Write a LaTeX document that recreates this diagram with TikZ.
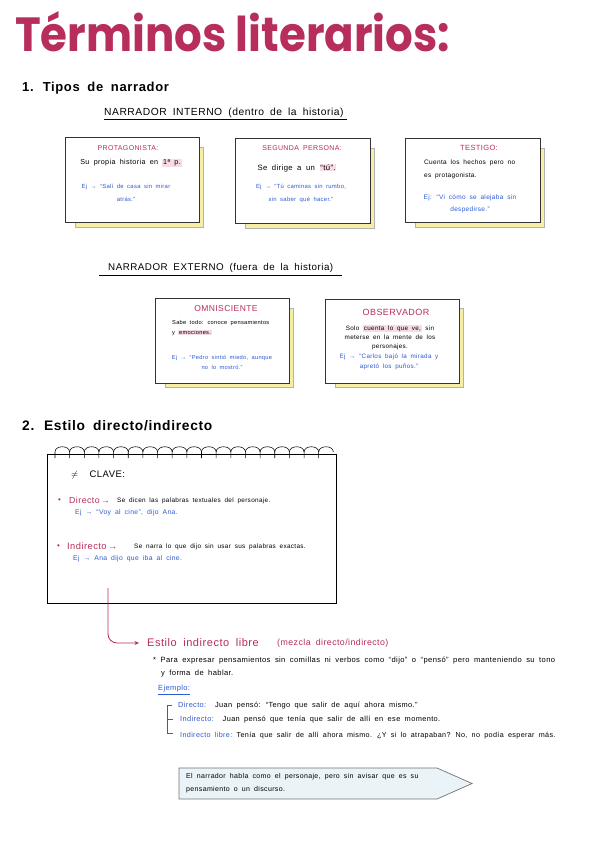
\documentclass[tikz,border=0pt]{standalone}
\usepackage{fontspec}
\setmainfont{Liberation Sans}[LetterSpace=5, WordSpace=1.8]
\newfontfamily\titlefont{Poppins}
\usetikzlibrary{arrows.meta}
\definecolor{crim}{HTML}{B72D5B}
\definecolor{inkblue}{HTML}{2F5BD3}
\definecolor{padyellow}{HTML}{F6EEA4}
\definecolor{hlpink}{HTML}{F8DCE3}
\definecolor{bannerfill}{HTML}{EAF3F8}
\newcommand\hlp[1]{{\setlength{\fboxsep}{0.8pt}\colorbox{hlpink}{#1}}}
\begin{document}
\begin{tikzpicture}[x=1pt,y=-1pt,
  every node/.style={inner sep=0pt},
  cardbox/.style={draw=black!80, line width=0.7pt, fill=white},
  padbox/.style={draw=black!30, line width=0.5pt, fill=padyellow},
  ctitle/.style={text=crim, font=\fontsize{7}{8}\selectfont},
  body/.style={font=\fontsize{6.5}{12}\selectfont},
  ex/.style={text=inkblue, font=\fontsize{6.5}{13}\selectfont},
  heading/.style={anchor=west, font=\bfseries\fontsize{13}{14}\selectfont},
  subhead/.style={anchor=west, font=\fontsize{10.3}{11}\selectfont},
  txt/.style={anchor=west, font=\fontsize{7.8}{9}\selectfont}
]
\useasboundingbox (0,0) rectangle (601,848);
\fill[white] (0,0) rectangle (601,848);

% title
\node[anchor=base west, text=crim] (title) at (15,52) {\resizebox{435pt}{40pt}{\titlefont\bfseries Términos literarios:}};

% section 1
\node[heading] (h1) at (22,88) {1. Tipos de narrador};
\node[subhead] (ni) at (104,113) {NARRADOR INTERNO (dentro de la historia)};
\draw[line width=0.6pt] (104,119.5) -- (347,119.5);

% cards row 1
\draw[padbox] (75,147) rectangle (203,227);
\draw[cardbox] (65,137) rectangle (199,222);
\draw[padbox] (245,148) rectangle (374,228);
\draw[cardbox] (235,138) rectangle (370,223);
\draw[padbox] (415,148) rectangle (544,227);
\draw[cardbox] (405,138) rectangle (540,222);

\node[ctitle] (t1) at (128,148) {PROTAGONISTA:};
\node[body, font=\fontsize{7.2}{12}\selectfont] (b1) at (131,163) {Su propia historia en \hlp{1ª p.}};
\node[ex, align=center, font=\fontsize{5.9}{13}\selectfont] (e1) at (126,192.5) {Ej → “Salí de casa sin mirar\\ atrás.”};

\node[ctitle] (t2) at (302,148) {SEGUNDA PERSONA:};
\node[body, font=\fontsize{7.7}{12}\selectfont] (b2) at (297,168) {Se dirige a un \hlp{“tú”.}};
\node[ex, align=center, font=\fontsize{5.9}{13}\selectfont] (e2) at (301,193.5) {Ej → “Tú caminas sin rumbo,\\ sin saber qué hacer.”};

\node[ctitle, font=\fontsize{7.5}{8}\selectfont] (t3) at (479,148) {TESTIGO:};
\node[body, align=left, anchor=west, font=\fontsize{6.5}{13}\selectfont] (b3) at (424,169.5) {Cuenta los hechos pero no\\ es protagonista.};
\node[ex, align=center, font=\fontsize{6.5}{12}\selectfont] (e3) at (470,204) {Ej: “Vi cómo se alejaba sin\\ despedirse.”};

% section 1b
\node[subhead, font=\fontsize{9.8}{11}\selectfont] (ne) at (108,268) {NARRADOR EXTERNO (fuera de la historia)};
\draw[line width=0.6pt] (99,275) -- (342,275);

\draw[padbox] (165,308) rectangle (293,387);
\draw[cardbox] (155,298) rectangle (289,383);
\draw[padbox] (335,308) rectangle (463,387);
\draw[cardbox] (325,299) rectangle (459,383);

\node[ctitle, font=\fontsize{8.5}{9}\selectfont] (t4) at (226,309) {OMNISCIENTE};
\node[body, align=left, anchor=west, font=\fontsize{5.7}{10}\selectfont] (b4) at (172,328) {Sabe todo: conoce pensamientos\\ y \hlp{emociones.}};
\node[ex, align=center, font=\fontsize{5.7}{10}\selectfont] (e4) at (222,362) {Ej → “Pedro sintió miedo, aunque\\ no lo mostró.”};

\node[ctitle, font=\fontsize{9}{10}\selectfont] (t5) at (396,312) {OBSERVADOR};
\node[body, align=center, font=\fontsize{6.3}{9}\selectfont] (b5) at (390,337) {Solo \hlp{cuenta lo que ve,} sin\\ meterse en la mente de los\\ personajes.};
\node[ex, align=center, font=\fontsize{6.3}{10}\selectfont] (e5) at (389,362) {Ej → “Carlos bajó la mirada y\\ apretó los puños.”};

% section 2
\node[heading, font=\bfseries\fontsize{13.8}{14}\selectfont] (h2) at (22,426) {2. Estilo directo/indirecto};

\draw[line width=0.8pt, fill=white] (47,454) rectangle (336,603);
\foreach \i in {0,...,18} {
  \pgfmathsetmacro\xa{55+\i*14.65}
  \pgfmathsetmacro\xb{\xa+14.65}
  \draw[line width=0.55pt] (\xa,458) -- (\xa,452) .. controls (\xa,445) and (\xb,445) .. (\xb,452);
}

\node[anchor=west, font=\fontsize{9.5}{10}\selectfont] (clave) at (71,475) {$\neq$\ \ CLAVE:};

\node[anchor=west, text=crim, font=\fontsize{8}{9}\selectfont] (bul1) at (58,501) {•};
\node[anchor=west, text=crim, font=\fontsize{8.8}{10}\selectfont] (dir) at (69,500) {Directo\,→};
\node[anchor=west, font=\fontsize{6.4}{8}\selectfont] (dirt) at (117,501) {Se dicen las palabras textuales del personaje.};
\node[anchor=west, text=inkblue, font=\fontsize{6.8}{8}\selectfont] (dire) at (75,513) {Ej → “Voy al cine”, dijo Ana.};

\node[anchor=west, text=crim, font=\fontsize{8}{9}\selectfont] (bul2) at (57,547) {•};
\node[anchor=west, text=crim, font=\fontsize{9.3}{10}\selectfont] (ind) at (67,546) {Indirecto\,→};
\node[anchor=west, font=\fontsize{6.4}{8}\selectfont] (indt) at (134,547) {Se narra lo que dijo sin usar sus palabras exactas.};
\node[anchor=west, text=inkblue, font=\fontsize{6.8}{8}\selectfont] (inde) at (73,559) {Ej → Ana dijo que iba al cine.};

% estilo indirecto libre
\node[anchor=west, text=crim, font=\fontsize{11}{11}\selectfont] (libre) at (147,643) {Estilo indirecto libre};
\node[anchor=west, text=crim, font=\fontsize{8.8}{9}\selectfont] (mezcla) at (277,643) {(mezcla directo/indirecto)};
\coordinate (a0) at (108,588);
\draw[crim, line width=0.8pt, rounded corners=9pt, -{Stealth[length=4.5pt,width=4pt]}, shorten >=8pt] (a0) |- (libre.west);

\node[txt, font=\fontsize{7.6}{9}\selectfont] (p1) at (153,660) {* Para expresar pensamientos sin comillas ni verbos como “dijo” o “pensó” pero manteniendo su tono};
\node[txt, font=\fontsize{7.6}{9}\selectfont] (p2) at (161,674) {y forma de hablar.};
\node[anchor=west, text=inkblue, font=\fontsize{7.5}{9}\selectfont] (ejm) at (158,689) {Ejemplo:};
\draw[inkblue, line width=0.5pt] ([yshift=-1.2pt]ejm.south west) -- ([yshift=-1.2pt]ejm.south east);

\draw[inkblue, line width=0.7pt] (172,705) -- (167,705) -- (167,733) -- (173,733);
\draw[inkblue, line width=0.7pt] (167,719) -- (173,719);

\node[txt, font=\fontsize{7.4}{9}\selectfont] (x1) at (178,706) {{\color{inkblue}Directo:}\ \ Juan pensó: “Tengo que salir de aquí ahora mismo.”};
\node[txt, font=\fontsize{7.4}{9}\selectfont] (x2) at (180,720) {{\color{inkblue}Indirecto:}\ \ Juan pensó que tenía que salir de allí en ese momento.};
\node[txt, font=\fontsize{7.2}{9}\selectfont] (x3) at (180,736) {{\color{inkblue}Indirecto libre:}\ Tenía que salir de allí ahora mismo. ¿Y si lo atrapaban? No, no podía esperar más.};

% banner
\draw[fill=bannerfill, draw=black!55, line width=0.7pt] (179,768) -- (437,768) -- (472,783.5) -- (437,799) -- (179,799) -- cycle;
\node[anchor=west, align=left, font=\fontsize{7}{13}\selectfont] (ban) at (186,783.5) {El narrador habla como el personaje, pero sin avisar que es su\\ pensamiento o un discurso.};
\end{tikzpicture}
\end{document}
